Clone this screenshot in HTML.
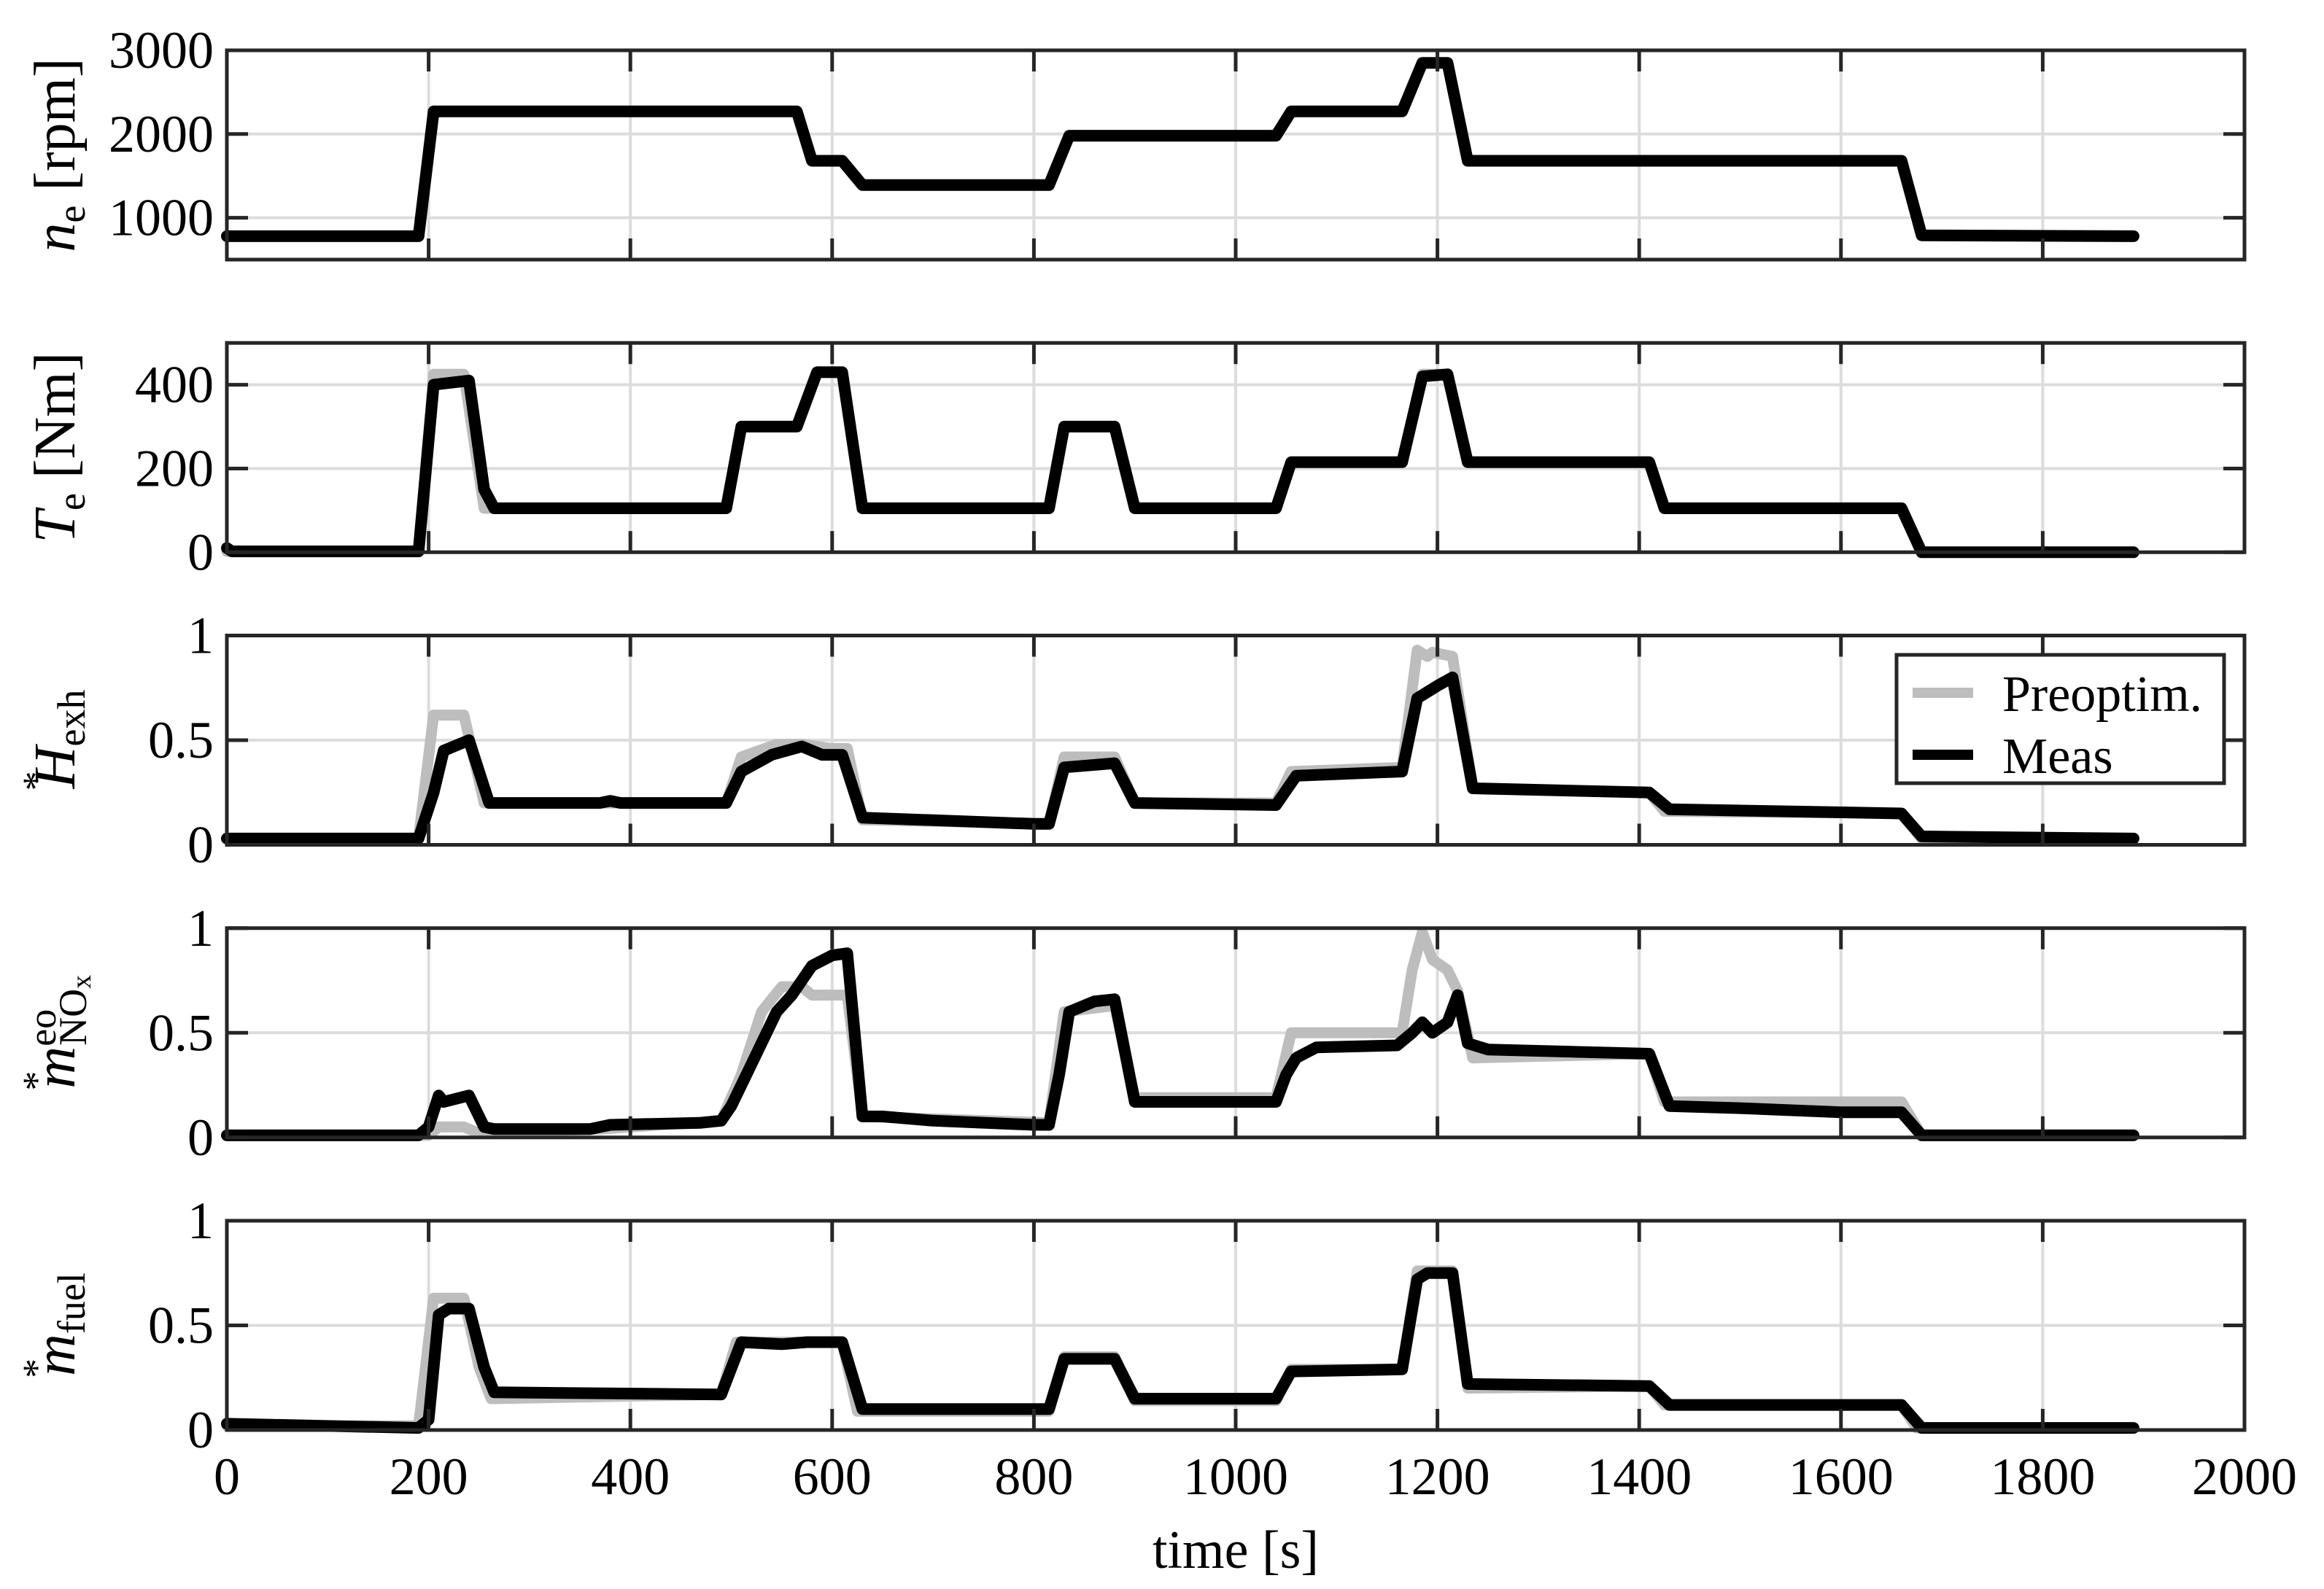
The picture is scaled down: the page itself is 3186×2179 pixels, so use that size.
<!DOCTYPE html>
<html><head><meta charset="utf-8"><style>
html,body{margin:0;padding:0;background:#fff}
svg{display:block}
text{font-family:"Liberation Serif",serif;fill:#000}
</style></head><body>
<svg id="chart" width="3186" height="2179" viewBox="0 0 3186 2179" xmlns="http://www.w3.org/2000/svg"></svg>
<script>
const xTicks=[0,200,400,600,800,1000,1200,1400,1600,1800,2000];
// panel 1: engine speed
const neT=[0,190,205,565,580,610,630,815,835,1040,1055,1165,1185,1210,1230,1660,1680,1890];
const neMeas=[780,780,2270,2270,1680,1680,1390,1390,1980,1980,2270,2270,2850,2850,1680,1680,790,780];
const nePre=[780,780,2270,2270,1680,1680,1390,1390,1980,1980,2270,2270,2850,2850,1680,1680,790,780];
// panel 2: torque
const teT=[0,5,190,205,240,255,265,495,510,565,585,610,630,815,830,880,900,1040,1055,1165,1185,1210,1230,1410,1425,1660,1680,1890];
const teMeas=[10,2,2,400,410,150,105,105,300,300,430,430,105,105,300,300,105,105,215,215,420,425,215,215,105,105,0,0];
const tePreT=[0,190,205,235,255,495,510,565,585,610,630,815,830,880,900,1040,1055,1165,1185,1210,1230,1410,1425,1660,1680,1890];
const tePre=[2,2,425,425,105,105,300,300,430,430,105,105,300,300,105,105,215,215,425,425,215,215,105,105,0,0];
// panel 3: exhaust enthalpy
const hT=[0,190,205,215,240,260,370,380,390,495,510,540,570,590,610,630,800,815,830,880,900,1040,1060,1165,1180,1200,1215,1235,1410,1430,1660,1680,1890];
const hMeas=[0.03,0.03,0.25,0.45,0.5,0.2,0.2,0.21,0.2,0.2,0.35,0.43,0.47,0.43,0.43,0.13,0.1,0.1,0.37,0.39,0.2,0.19,0.33,0.35,0.7,0.76,0.8,0.27,0.25,0.17,0.15,0.04,0.03];
const hPreT=[0,190,205,235,255,495,510,545,570,600,615,630,815,830,880,900,1040,1055,1165,1180,1190,1195,1215,1235,1410,1425,1660,1680,1890];
const hPre=[0.03,0.03,0.62,0.62,0.2,0.2,0.42,0.48,0.48,0.46,0.46,0.12,0.1,0.42,0.42,0.2,0.2,0.35,0.37,0.93,0.9,0.92,0.9,0.27,0.25,0.16,0.15,0.03,0.03];
// panel 4: NOx
const nT=[0,190,200,210,215,240,255,265,360,380,470,490,500,520,545,560,580,600,615,630,650,700,800,815,825,835,860,880,900,1040,1050,1060,1080,1160,1175,1185,1195,1210,1220,1230,1250,1410,1430,1500,1600,1660,1680,1890];
const nMeas=[0.01,0.01,0.05,0.2,0.17,0.2,0.05,0.04,0.04,0.06,0.07,0.08,0.15,0.35,0.6,0.68,0.82,0.87,0.88,0.1,0.1,0.08,0.06,0.06,0.3,0.6,0.65,0.66,0.17,0.17,0.3,0.38,0.43,0.44,0.5,0.55,0.5,0.55,0.68,0.45,0.42,0.4,0.15,0.14,0.12,0.12,0.01,0.01];
const nPreT=[0,200,210,235,250,370,490,510,530,550,570,580,615,630,815,830,880,900,1040,1055,1165,1175,1185,1195,1210,1220,1235,1410,1425,1660,1680,1890];
const nPre=[0.01,0.01,0.05,0.05,0.02,0.04,0.08,0.3,0.6,0.72,0.72,0.68,0.68,0.1,0.07,0.6,0.63,0.19,0.19,0.5,0.5,0.8,0.98,0.85,0.8,0.7,0.38,0.4,0.17,0.17,0.01,0.01];
// panel 5: fuel
const fT=[0,190,200,210,220,240,255,265,490,510,550,575,610,630,815,830,880,900,1040,1055,1165,1180,1190,1215,1230,1410,1430,1660,1680,1890];
const fMeas=[0.03,0.01,0.05,0.55,0.58,0.58,0.3,0.18,0.17,0.42,0.41,0.42,0.42,0.1,0.1,0.34,0.34,0.15,0.15,0.28,0.29,0.72,0.75,0.75,0.22,0.21,0.12,0.12,0.01,0.01];
const fPreT=[0,190,205,235,250,262,490,505,610,625,815,830,880,900,1040,1055,1165,1180,1215,1230,1410,1425,1660,1675,1890];
const fPre=[0.02,0.02,0.63,0.63,0.3,0.15,0.17,0.42,0.42,0.09,0.09,0.35,0.35,0.14,0.14,0.29,0.29,0.76,0.76,0.2,0.21,0.12,0.12,0.01,0.01];

const panels=[
 {name:'engine-speed',min:500,max:3000,ticks:[1000,2000,3000],tl:['1000','2000','3000'],pt:neT,pv:nePre,mt:neT,mv:neMeas,label:'ne'},
 {name:'engine-torque',min:0,max:500,ticks:[0,200,400],tl:['0','200','400'],pt:tePreT,pv:tePre,mt:teT,mv:teMeas,label:'te'},
 {name:'exhaust-enthalpy',min:0,max:1,ticks:[0,0.5,1],tl:['0','0.5','1'],pt:hPreT,pv:hPre,mt:hT,mv:hMeas,label:'h'},
 {name:'nox-mass-flow',min:0,max:1,ticks:[0,0.5,1],tl:['0','0.5','1'],pt:nPreT,pv:nPre,mt:nT,mv:nMeas,label:'nox'},
 {name:'fuel-mass-flow',min:0,max:1,ticks:[0,0.5,1],tl:['0','0.5','1'],pt:fPreT,pv:fPre,mt:fT,mv:fMeas,label:'fuel'}
];
const NS='http://www.w3.org/2000/svg';
const svg=document.getElementById('chart');
const L=311,R=3077,H=287,S=401.25,TOP0=69;
const xs=t=>L+(t-0)/2000*(R-L);
function el(tag,attrs,parent){const e=document.createElementNS(NS,tag);for(const k in attrs)e.setAttribute(k,attrs[k]);(parent||svg).appendChild(e);return e;}
panels.forEach((p,i)=>{
 const top=TOP0+i*S,bot=top+H;
 const ys=v=>bot-(v-p.min)/(p.max-p.min)*H;
 const g=el('g',{});
 
 
 xTicks.forEach(t=>{const ln=el('line',{x1:xs(t),x2:xs(t),y1:top,y2:bot,stroke:'#dcdcdc','stroke-width':4},g);
  });
 p.ticks.forEach(v=>{const ln=el('line',{x1:L,x2:R,y1:ys(v),y2:ys(v),stroke:'#dcdcdc','stroke-width':4},g);
  });
 const pts=(T,V)=>T.map((t,k)=>xs(t).toFixed(1)+','+ys(V[k]).toFixed(1)).join(' ');
 const pre=el('polyline',{points:pts(p.pt,p.pv),fill:'none',stroke:'#bdbdbd','stroke-width':15,'stroke-linejoin':'round','stroke-linecap':'round'},g);
 
 const me=el('polyline',{points:pts(p.mt,p.mv),fill:'none',stroke:'#000','stroke-width':16,'stroke-linejoin':'round','stroke-linecap':'round'},g);
 
 xTicks.forEach(t=>{el('line',{x1:xs(t),x2:xs(t),y1:top,y2:top+29,stroke:'#262626','stroke-width':5},g);el('line',{x1:xs(t),x2:xs(t),y1:bot,y2:bot-29,stroke:'#262626','stroke-width':5},g);});
 p.ticks.forEach((v,k)=>{el('line',{x1:L,x2:L+29,y1:ys(v),y2:ys(v),stroke:'#262626','stroke-width':5},g);el('line',{x1:R,x2:R-29,y1:ys(v),y2:ys(v),stroke:'#262626','stroke-width':5},g);
  const tx=el('text',{x:L-18,y:ys(v)+24,'text-anchor':'end','font-size':72},g);tx.textContent=p.tl[k];
  });
 const box=el('rect',{x:L,y:top,width:R-L,height:H,fill:'none',stroke:'#262626','stroke-width':5},g);
 
 const cy=top+H/2;
 const yl=el('text',{transform:`translate(102,${cy}) rotate(-90)`,'text-anchor':'middle','font-size':80},g);
 
 if(p.label==='ne') yl.innerHTML='<tspan font-style="italic">n</tspan><tspan font-size="54" dy="14">e</tspan><tspan dy="-14"> [rpm]</tspan>';
 if(p.label==='te') yl.innerHTML='<tspan font-style="italic">T</tspan><tspan font-size="54" dy="14">e</tspan><tspan dy="-14"> [Nm]</tspan>';
 if(p.label==='h') yl.innerHTML='<tspan font-size="54" dy="-34">*</tspan><tspan font-style="italic" dx="-24" dy="34">H</tspan><tspan font-size="54" dy="14">exh</tspan>';
 if(p.label==='nox') yl.innerHTML='<tspan font-size="54" dy="-34">*</tspan><tspan font-style="italic" dx="-24" dy="34">m</tspan><tspan font-size="54" dy="-26">eo</tspan><tspan font-size="54" dx="-50" dy="42">NO</tspan><tspan font-size="38" dy="6">x</tspan>';
 if(p.label==='fuel') yl.innerHTML='<tspan font-size="54" dy="-34">*</tspan><tspan font-style="italic" dx="-24" dy="34">m</tspan><tspan font-size="54" dy="14">fuel</tspan>';
 if(i===4){
  xTicks.forEach(t=>{const tx=el('text',{x:xs(t),y:bot+88,'text-anchor':'middle','font-size':72},g);tx.textContent=String(t);
   });
 }
 if(i===2){
  const lg=el('g',{},g);
  
  el('rect',{x:2600,y:898,width:449,height:176,fill:'#fff',stroke:'#262626','stroke-width':5},lg);
  el('line',{x1:2622,x2:2705,y1:950,y2:950,stroke:'#bdbdbd','stroke-width':14},lg);
  el('line',{x1:2622,x2:2705,y1:1035,y2:1035,stroke:'#000','stroke-width':14},lg);
  const a=el('text',{x:2745,y:975,'font-size':70},lg);a.textContent='Preoptim.';
  
  const b=el('text',{x:2745,y:1060,'font-size':70},lg);b.textContent='Meas';
  
 }
});
const xl=el('text',{x:(L+R)/2,y:2150,'text-anchor':'middle','font-size':74});
xl.textContent='time [s]';


</script>
</body></html>
